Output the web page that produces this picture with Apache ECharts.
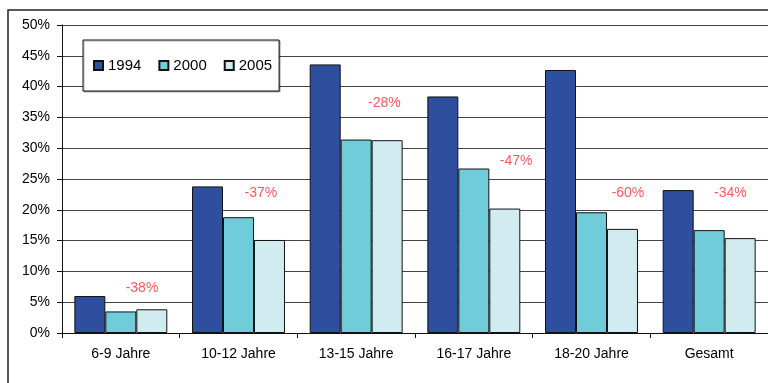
<!DOCTYPE html>
<html>
<head>
<meta charset="utf-8">
<script src="https://cdn.jsdelivr.net/npm/echarts@6/dist/echarts.min.js"></script>
<style>
html,body{margin:0;padding:0;background:#fff;}
#c{width:768px;height:383px;}
</style>
</head>
<body>
<div id="c"></div>
<script>
var categories = ['6-9 Jahre', '10-12 Jahre', '13-15 Jahre', '16-17 Jahre', '18-20 Jahre', 'Gesamt'];
var seriesNames = ['1994', '2000', '2005'];
var values1994 = [6.0, 23.8, 43.6, 38.4, 42.7, 23.2];
var values2000 = [3.5, 18.8, 31.4, 26.7, 19.6, 16.7];
var values2005 = [3.85, 15.1, 31.3, 20.2, 16.9, 15.4];
var yTicks = [0, 5, 10, 15, 20, 25, 30, 35, 40, 45, 50];
// change annotations: text, anchor position in category units, anchor value (%)
var changeLabels = ['-38%', '-37%', '-28%', '-47%', '-60%', '-34%'];
var changeX = [0.68, 1.69, 2.74, 3.86, 4.81, 5.68];
var changeY = [7.3, 22.7, 37.3, 27.9, 22.7, 22.7];

var colors = ['#2E4E9E', '#70CCD9', '#D0ECF0'];
var font = "'Liberation Sans', Arial, sans-serif";
var seriesValues = [values1994, values2000, values2005];

var chart = echarts.init(document.getElementById('c'));
var series = seriesValues.map(function (vals, i) {
  return {
    name: seriesNames[i],
    type: 'bar',
    data: vals,
    barGap: '0%',
    barCategoryGap: '21%',
    itemStyle: {
      color: colors[i],
      borderColor: '#111',
      borderWidth: 1
    }
  };
});
series.push({
  type: 'scatter',
  xAxisIndex: 1,
  symbolSize: 0,
  silent: true,
  data: changeX.map(function (x, i) { return [x, changeY[i], changeLabels[i]]; }),
  label: {
    show: true,
    position: 'inside',
    formatter: function (p) { return p.data[2]; },
    color: '#FF2A2A',
    fontSize: 14,
    fontFamily: font
  },
  z: 10
});

chart.setOption({
  animation: false,
  backgroundColor: '#fff',
  textStyle: { fontFamily: font },
  graphic: [{
    type: 'rect',
    shape: { x: 8, y: 10, width: 800, height: 420 },
    style: { fill: 'none', stroke: '#222', lineWidth: 1.5 },
    z: 100
  }],
  grid: { left: 62, top: 25, right: -4, bottom: 50 },
  legend: {
    data: seriesNames,
    left: 83,
    top: 40,
    padding: [18, 7, 18, 10],
    itemWidth: 9,
    itemHeight: 9,
    itemGap: 17,
    icon: 'rect',
    backgroundColor: '#fff',
    borderColor: '#111',
    borderWidth: 1,
    shadowColor: 'rgba(0,0,0,0.3)',
    shadowOffsetX: 1,
    shadowOffsetY: 1,
    shadowBlur: 0,
    textStyle: { fontSize: 15, color: '#000', fontFamily: font }
  },
  xAxis: [{
    type: 'category',
    data: categories,
    axisLine: { lineStyle: { color: '#111', width: 1 } },
    axisTick: { show: true, length: 5, lineStyle: { color: '#111' } },
    axisLabel: { fontSize: 14, color: '#000', margin: 14, fontFamily: font }
  }, {
    type: 'value',
    min: 0,
    max: 6,
    show: false
  }],
  yAxis: {
    type: 'value',
    min: yTicks[0],
    max: yTicks[yTicks.length - 1],
    interval: yTicks[1] - yTicks[0],
    axisLine: { show: true, lineStyle: { color: '#111', width: 1 } },
    axisTick: { show: true, length: 5, lineStyle: { color: '#111' } },
    axisLabel: { fontSize: 14, color: '#000', margin: 12, formatter: '{value}%', fontFamily: font },
    splitLine: { lineStyle: { color: '#444', width: 1 } }
  },
  series: series
});
</script>
</body>
</html>
